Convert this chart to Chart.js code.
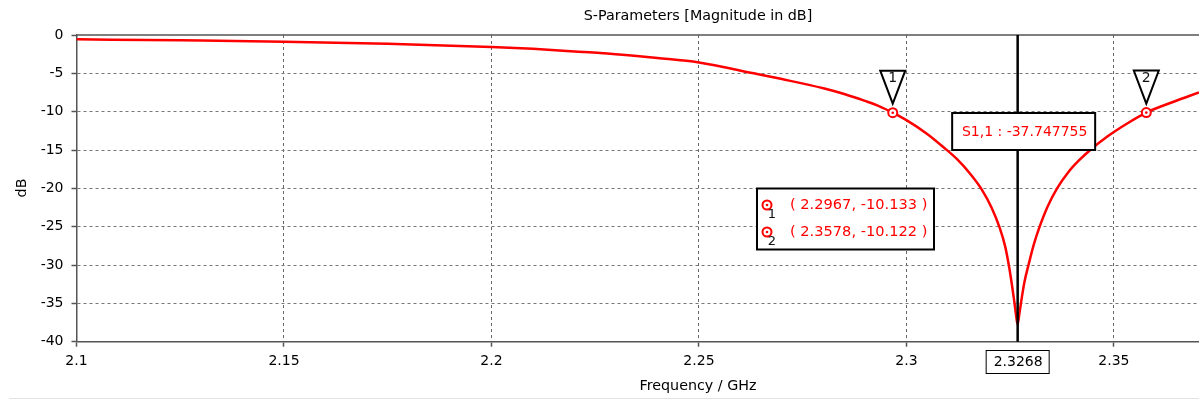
<!DOCTYPE html>
<html>
<head>
<meta charset="utf-8">
<script src="https://cdn.jsdelivr.net/npm/chart.js@4.4.1/dist/chart.umd.min.js"></script>
<style>
  html, body { margin: 0; padding: 0; background: #fff; }
  #wrap { width: 1199px; height: 401px; }
</style>
</head>
<body>
<div id="wrap"><canvas id="sparam" width="1199" height="401"></canvas></div>
<script>
// S1,1 magnitude
var freq = [2.100, 2.125, 2.150, 2.175, 2.200, 2.210, 2.220, 2.2262, 2.235, 2.240,
            2.250, 2.2632, 2.270, 2.280, 2.285, 2.290, 2.2935, 2.2967, 2.300, 2.305,
            2.3094, 2.3122, 2.3155, 2.3182, 2.3205, 2.3225, 2.3238, 2.3246, 2.3254, 2.3260,
            2.3264, 2.3268, 2.3272, 2.3277, 2.3284, 2.3295, 2.3307, 2.3321, 2.3340, 2.3363,
            2.3390, 2.3415, 2.3445, 2.3485, 2.3530, 2.3578, 2.3644, 2.3705];
var s11 = [-0.56, -0.70, -0.87, -1.15, -1.55, -1.80, -2.15, -2.36, -2.75, -3.00,
           -3.58, -5.00, -5.75, -6.95, -7.70, -8.60, -9.30, -10.13, -11.10, -12.90,
           -14.85, -16.20, -18.20, -20.20, -22.50, -25.20, -27.60, -29.80, -32.50, -34.80,
           -36.50, -37.75, -36.40, -34.60, -32.30, -29.80, -27.30, -25.00, -22.40, -20.00,
           -17.90, -16.40, -14.90, -13.20, -11.60, -10.12, -8.70, -7.50];

var xTicks = [2.1, 2.15, 2.2, 2.25, 2.3, 2.35];
var yTicks = [0, -5, -10, -15, -20, -25, -30, -35, -40];

var markerFreq = [2.2967, 2.3578];
var markerVal = [-10.133, -10.122];
var markerName = ['1', '2'];

var cursorFreq = 2.3268;
var cursorVal = -37.747755;

var FONT = '"DejaVu Sans", Verdana, sans-serif';

function markerRing(ctx, x, y) {
    ctx.beginPath();
    ctx.arc(x, y, 4.5, 0, Math.PI * 2);
    ctx.fillStyle = '#fff';
    ctx.fill();
    ctx.lineWidth = 2;
    ctx.strokeStyle = '#ff0000';
    ctx.stroke();
    ctx.beginPath();
    ctx.arc(x, y, 1.3, 0, Math.PI * 2);
    ctx.fillStyle = '#ff0000';
    ctx.fill();
}

var decorations = {
    id: 'decorations',
    afterDatasetsDraw(chart) {
        const ctx = chart.ctx;
        const area = chart.chartArea;
        const xs = chart.scales.x, ys = chart.scales.y;
        ctx.save();

        // top frame line
        ctx.strokeStyle = '#555';
        ctx.lineWidth = 1.5;
        ctx.beginPath();
        ctx.moveTo(area.left, area.top);
        ctx.lineTo(area.right, area.top);
        ctx.stroke();

        // faint line at bottom of window
        ctx.strokeStyle = '#e2e2e2';
        ctx.lineWidth = 1;
        ctx.beginPath();
        ctx.moveTo(9, 398.5);
        ctx.lineTo(chart.width, 398.5);
        ctx.stroke();

        // titles
        ctx.fillStyle = '#000';
        ctx.textAlign = 'center';
        ctx.textBaseline = 'middle';
        ctx.font = '14.3px ' + FONT;
        ctx.fillText('S-Parameters [Magnitude in dB]', 698, 16);
        ctx.fillText('Frequency / GHz', 698, 386);
        ctx.save();
        ctx.translate(22, 188);
        ctx.rotate(-Math.PI / 2);
        ctx.fillText('dB', 0, 0);
        ctx.restore();

        // cursor line
        const cx = xs.getPixelForValue(cursorFreq);
        ctx.strokeStyle = '#000';
        ctx.lineWidth = 2.5;
        ctx.beginPath();
        ctx.moveTo(cx, area.top);
        ctx.lineTo(cx, area.bottom);
        ctx.stroke();

        // cursor value on x axis
        ctx.font = '14px ' + FONT;
        ctx.lineWidth = 1;
        ctx.fillStyle = '#fff';
        ctx.fillRect(cx - 31.5, 350.5, 63, 23);
        ctx.strokeStyle = '#000';
        ctx.strokeRect(cx - 31.5, 350.5, 63, 23);
        ctx.fillStyle = '#000';
        ctx.fillText(cursorFreq.toFixed(4), cx + 0.5, 362.5);

        // cursor readout box
        const bx = cx - 65.5, by = 113, bw = 143, bh = 37;
        ctx.fillStyle = '#fff';
        ctx.fillRect(bx, by, bw, bh);
        ctx.lineWidth = 2;
        ctx.strokeRect(bx, by, bw, bh);
        ctx.fillStyle = '#ff0000';
        ctx.fillText('S1,1 : ' + cursorVal.toFixed(6), bx + bw / 2 + 1, by + bh / 2 + 0.5);

        // markers on the curve
        for (let i = 0; i < markerFreq.length; i++) {
            const mx = xs.getPixelForValue(markerFreq[i]);
            const my = ys.getPixelForValue(markerVal[i]);
            markerRing(ctx, mx, my);
            ctx.beginPath();
            ctx.moveTo(mx - 12.5, my - 42);
            ctx.lineTo(mx + 12.5, my - 42);
            ctx.lineTo(mx, my - 9);
            ctx.closePath();
            ctx.fillStyle = '#fff';
            ctx.fill();
            ctx.strokeStyle = '#000';
            ctx.lineWidth = 2;
            ctx.stroke();
            ctx.fillStyle = '#111';
            ctx.font = '14px ' + FONT;
            ctx.fillText(markerName[i], mx, my - 34);
        }

        // marker table
        ctx.fillStyle = '#fff';
        ctx.fillRect(757, 188.5, 177, 61);
        ctx.strokeStyle = '#000';
        ctx.lineWidth = 2;
        ctx.strokeRect(757, 188.5, 177, 61);
        for (let i = 0; i < markerFreq.length; i++) {
            const ry = 205 + i * 27;
            markerRing(ctx, 767, ry);
            ctx.fillStyle = '#111';
            ctx.font = '13px ' + FONT;
            ctx.textAlign = 'center';
            ctx.fillText(markerName[i], 772, ry + 10);
            ctx.fillStyle = '#ff0000';
            ctx.font = '14.6px ' + FONT;
            ctx.textAlign = 'left';
            ctx.fillText('( ' + markerFreq[i].toFixed(4) + ', ' + markerVal[i].toFixed(3) + ' )', 790, ry);
        }
        ctx.restore();
    }
};

new Chart(document.getElementById('sparam'), {
    type: 'line',
    data: {
        datasets: [{
            label: 'S1,1',
            data: freq.map((f, i) => ({x: f, y: s11[i]})),
            borderColor: '#ff0000',
            borderWidth: 2.5,
            pointRadius: 0,
            cubicInterpolationMode: 'monotone',
            fill: false
        }]
    },
    options: {
        responsive: false,
        animation: false,
        layout: { padding: { top: 35, left: 0, right: 0, bottom: 0 }, autoPadding: false },
        plugins: {
            legend: { display: false },
            title: { display: false },
            tooltip: { enabled: false }
        },
        scales: {
            x: {
                type: 'linear',
                min: 2.1,
                max: 2.3705,
                afterBuildTicks: s => { s.ticks = xTicks.map(v => ({value: v})); },
                afterFit: s => { s.height = 59.3; },
                ticks: {
                    color: '#000',
                    font: { family: FONT, size: 14 },
                    padding: 6,
                    maxRotation: 0,
                    callback: v => String(+v.toFixed(4))
                },
                grid: {
                    color: c => (c.tick && c.tick.value === 2.1) ? 'rgba(0,0,0,0)' : '#666',
                    lineWidth: 1,
                    tickColor: '#555',
                    tickLength: 5,
                    tickWidth: 1.5
                },
                border: { color: '#555', width: 1.5, dash: [3, 3] }
            },
            y: {
                min: -40,
                max: 0,
                afterBuildTicks: s => { s.ticks = yTicks.map(v => ({value: v})); },
                afterFit: s => { s.width = 76.5; },
                ticks: {
                    color: '#000',
                    font: { family: FONT, size: 14 },
                    padding: 8,
                    callback: v => String(v)
                },
                grid: {
                    color: c => (c.tick && (c.tick.value === 0 || c.tick.value === -40)) ? 'rgba(0,0,0,0)' : '#777',
                    lineWidth: 1,
                    tickColor: '#555',
                    tickLength: 5,
                    tickWidth: 1.5
                },
                border: { color: '#555', width: 1.5, dash: [3, 3] }
            }
        }
    },
    plugins: [decorations]
});
</script>
</body>
</html>
